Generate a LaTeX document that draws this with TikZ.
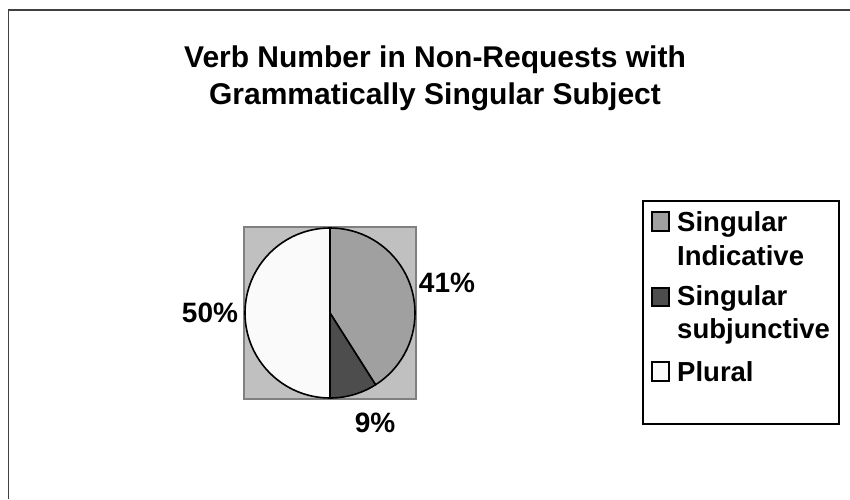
\documentclass[tikz,border=0pt]{standalone}
\usepackage{fontspec}
\setmainfont{Liberation Sans}
\definecolor{plotbg}{HTML}{C0C0C0}
\definecolor{plotedge}{HTML}{808080}
\definecolor{indic}{HTML}{A0A0A0}
\definecolor{subj}{HTML}{4D4D4D}
\definecolor{plur}{HTML}{FAFAFA}
\definecolor{frame}{HTML}{404040}
\tikzset{
  lbl/.style={font=\fontsize{28}{33}\selectfont\bfseries, inner sep=0pt, anchor=base},
  ttl/.style={font=\fontsize{30}{37}\selectfont\bfseries, inner sep=0pt, anchor=base},
  legtext/.style={font=\fontsize{27.5}{33}\selectfont\bfseries, inner sep=0pt, anchor=base west},
  swatch/.style={draw=black, line width=1.3pt},
  slice/.style={draw=black, line width=1.6pt, line join=round},
}
\begin{document}
\begin{tikzpicture}[x=1pt,y=1pt]
\useasboundingbox (0,0) rectangle (850,499);
\fill[white] (0,0) rectangle (850,499);
% outer frame (cropped)
\draw[frame, line width=1.8pt] (8.5,0) -- (8.5,489) -- (851,489);
% title
\node[ttl] (t1) at (435,431) {Verb Number in Non-Requests with};
\node[ttl] (t2) at (435,394) {Grammatically Singular Subject};
% plot area
\draw[fill=plotbg, draw=plotedge, line width=1.5pt] (244,100) rectangle (416,272);
\coordinate (c) at (330,186);
\filldraw[slice, fill=indic] (c) -- ++(90:85) arc[start angle=90, end angle=-57.6, radius=85] -- cycle;
\filldraw[slice, fill=subj] (c) -- ++(-57.6:85) arc[start angle=-57.6, end angle=-90, radius=85] -- cycle;
\filldraw[slice, fill=plur] (c) -- ++(-90:85) arc[start angle=-90, end angle=-270, radius=85] -- cycle;
% percentage labels
\node[lbl] (p41) at (447,207) {41\%};
\node[lbl] (p9) at (375,67) {9\%};
\node[lbl] (p50) at (210,177) {50\%};
% legend
\draw[black, line width=1.5pt, fill=white] (643,75) rectangle (839,298);
\draw[swatch, fill=indic] (652,268) rectangle (669,287);
\draw[swatch, fill=subj] (652,193) rectangle (669,211);
\draw[swatch, fill=plur] (652,118) rectangle (669,137);
\node[legtext] (l1a) at (677,268) {Singular};
\node[legtext] (l1b) at (677,234) {Indicative};
\node[legtext] (l2a) at (677,194) {Singular};
\node[legtext] (l2b) at (677,161) {subjunctive};
\node[legtext] (l3) at (677,118) {Plural};
\end{tikzpicture}
\end{document}
